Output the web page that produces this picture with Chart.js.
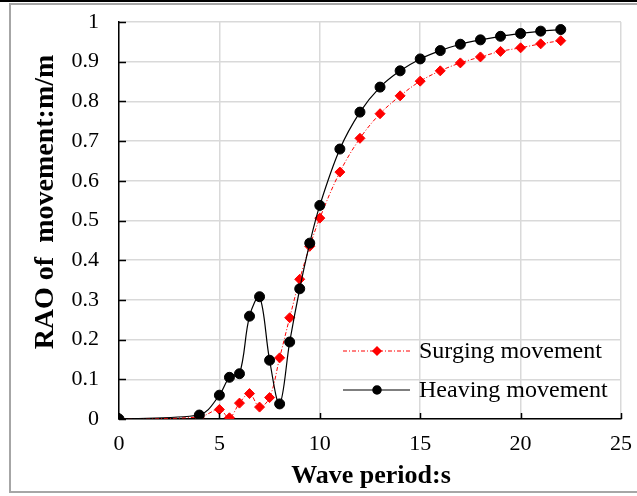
<!DOCTYPE html>
<html>
<head>
<meta charset="utf-8">
<script src="https://cdn.jsdelivr.net/npm/chart.js@4.4.1/dist/chart.umd.min.js"></script>
<style>
  html, body { margin: 0; padding: 0; background: #fff; overflow: hidden; }
  #wrap { position: relative; width: 637px; height: 496px; }
</style>
</head>
<body>
<div id="wrap"><canvas id="chart"></canvas></div>
<script>
// wave period (s)
const periods = [0, 4, 5, 5.5, 6, 6.5, 7, 7.5, 8, 8.5, 9, 9.5, 10, 11, 12, 13, 14, 15, 16, 17, 18, 19, 20, 21, 22];
const surging = [0, 0.005, 0.024, 0.003, 0.040, 0.064, 0.030, 0.054, 0.154, 0.255, 0.352, 0.435, 0.506, 0.622, 0.707, 0.769, 0.814, 0.851, 0.877, 0.897, 0.912, 0.926, 0.935, 0.945, 0.953];
const heaving = [0, 0.010, 0.060, 0.105, 0.114, 0.259, 0.308, 0.148, 0.038, 0.194, 0.328, 0.443, 0.538, 0.680, 0.773, 0.836, 0.877, 0.907, 0.928, 0.944, 0.955, 0.964, 0.971, 0.977, 0.981];
const xTickLabels = ['0', '5', '10', '15', '20', '25'];
const yTickLabels = ['0', '0.1', '0.2', '0.3', '0.4', '0.5', '0.6', '0.7', '0.8', '0.9', '1'];
const seriesNames = ['Surging movement', 'Heaving movement'];

const serif = '"Liberation Serif", "Times New Roman", serif';

const toPoints = (ys) => periods.map((x, i) => ({ x, y: ys[i] }));

// frame, inward tick marks, axis titles and in-plot legend
const decor = {
    id: 'decor',
    beforeDraw(chart) {
        const { ctx, width, height } = chart;
        ctx.save();
        ctx.fillStyle = '#fff';
        ctx.fillRect(0, 0, width, height);
        ctx.restore();
    },
    afterDraw(chart) {
        const { ctx, chartArea: a, scales } = chart;
        ctx.save();
        // inward ticks
        ctx.strokeStyle = '#000';
        ctx.lineWidth = 1.5;
        ctx.beginPath();
        scales.x.ticks.forEach(t => {
            const px = Math.round(scales.x.getPixelForValue(t.value)) + 0.5;
            ctx.moveTo(px, a.bottom);
            ctx.lineTo(px, a.bottom - 6);
        });
        scales.y.ticks.forEach(t => {
            const py = Math.round(scales.y.getPixelForValue(t.value)) + 0.5;
            ctx.moveTo(a.left, py);
            ctx.lineTo(a.left + 7, py);
        });
        ctx.stroke();

        // axis titles
        ctx.fillStyle = '#000';
        ctx.textAlign = 'center';
        ctx.textBaseline = 'middle';
        ctx.font = 'bold 26px ' + serif;
        ctx.fillText('Wave period:s', (a.left + a.right) / 2 + 1, 476);
        ctx.save();
        ctx.font = 'bold 28px ' + serif;
        ctx.translate(46, 202);
        ctx.rotate(-Math.PI / 2);
        ctx.fillText('RAO of  movement:m/m', 0, 0);
        ctx.restore();

        // legend
        const rowsY = [351, 390];
        ctx.font = '24px ' + serif;
        ctx.textAlign = 'left';
        ctx.textBaseline = 'middle';
        chart.data.datasets.forEach((ds, i) => {
            const y = rowsY[i];
            ctx.save();
            ctx.strokeStyle = ds.borderColor;
            ctx.lineWidth = ds.borderWidth;
            ctx.setLineDash(ds.borderDash || []);
            ctx.beginPath();
            ctx.moveTo(343, y);
            ctx.lineTo(410, y);
            ctx.stroke();
            ctx.restore();
            ctx.fillStyle = ds.pointBackgroundColor;
            ctx.strokeStyle = ds.pointBorderColor;
            Chart.helpers.drawPoint(ctx, {
                pointStyle: ds.pointStyle,
                radius: ds.pointRadius - 1,
                rotation: 0,
                borderWidth: 1
            }, 377, y);
            ctx.fillStyle = '#000';
            ctx.fillText(seriesNames[i], 419, y + 1);
        });

        // frame
        ctx.fillStyle = '#000';
        ctx.fillRect(0, 0, chart.width, 2);
        ctx.strokeStyle = '#a6a6a6';
        ctx.lineWidth = 2;
        ctx.beginPath();
        ctx.moveTo(chart.width, 4);
        ctx.lineTo(10, 4);
        ctx.lineTo(10, 492);
        ctx.lineTo(chart.width, 492);
        ctx.stroke();
        ctx.restore();
    }
};

new Chart(document.getElementById('chart'), {
    type: 'scatter',
    data: {
        datasets: [
            {
                label: seriesNames[0],
                data: toPoints(surging),
                showLine: true,
                tension: 0.35,
                borderColor: '#ff0000',
                borderWidth: 1,
                borderDash: [4, 2, 1, 2],
                pointStyle: 'rectRot',
                pointRadius: 5,
                pointBackgroundColor: '#ff0000',
                pointBorderColor: '#ff0000',
                pointBorderWidth: 1,
                order: 2
            },
            {
                label: seriesNames[1],
                data: toPoints(heaving),
                showLine: true,
                tension: 0.35,
                borderColor: '#000000',
                borderWidth: 1.2,
                pointStyle: 'circle',
                pointRadius: 5,
                pointBackgroundColor: '#000000',
                pointBorderColor: '#000000',
                pointBorderWidth: 1,
                order: 1
            }
        ]
    },
    options: {
        responsive: true,
        maintainAspectRatio: false,
        animation: false,
        layout: { padding: { top: 22, right: 16, left: 0, bottom: 0 } },
        plugins: { legend: { display: false }, tooltip: { enabled: false } },
        scales: {
            x: {
                type: 'linear',
                min: 0,
                max: 25,
                afterFit: s => {
                    s.height = 77;
                    s.paddingLeft = 0;
                    s.paddingRight = 0;
                },
                ticks: {
                    stepSize: 5,
                    padding: 12,
                    color: '#000',
                    font: { family: serif, size: 22 },
                    callback: (v, i) => xTickLabels[i]
                },
                grid: { color: '#d9d9d9', lineWidth: 1.5, drawTicks: false },
                border: { color: '#000', width: 1.5 }
            },
            y: {
                min: 0,
                max: 1,
                afterFit: s => {
                    s.width = 119;
                    s.paddingTop = 0;
                    s.paddingBottom = 0;
                },
                ticks: {
                    stepSize: 0.1,
                    padding: 20,
                    color: '#000',
                    font: { family: serif, size: 22 },
                    callback: (v, i) => yTickLabels[i]
                },
                grid: { color: '#d9d9d9', lineWidth: 1.5, drawTicks: false },
                border: { color: '#000', width: 1.5 }
            }
        }
    },
    plugins: [decor]
});
</script>
</body>
</html>
